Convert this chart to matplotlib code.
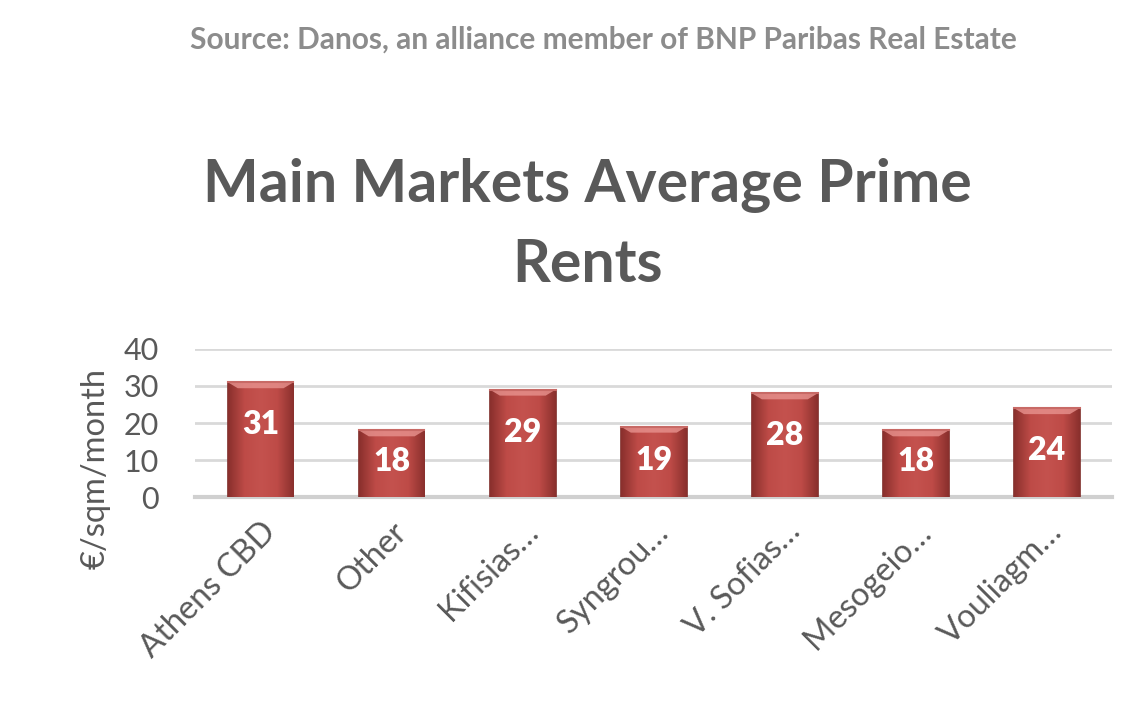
import numpy as np
import matplotlib
matplotlib.use('Agg')
import matplotlib.pyplot as plt
from matplotlib.colors import LinearSegmentedColormap

# data
markets = ['Athens CBD', 'Other', 'Kifisias…', 'Syngrou…', 'V. Sofias…', 'Mesogeio…', 'Vouliagm…']
rents = [31, 18, 29, 19, 28, 18, 24]
y_ticks = [0, 10, 20, 30, 40]

plt.rcParams['font.family'] = ['Lato', 'DejaVu Sans']
grey = '#595959'

fig = plt.figure(figsize=(11.48, 7.26), dpi=100)
ax = fig.add_axes([0.170, 0.3154, 0.799, 0.2039])

x = np.arange(len(markets))
bars = ax.bar(x, rents, width=0.5, color='#B8433F', edgecolor='#7E2C29',
              linewidth=1.2, zorder=3)

# shading across each bar: dark edges, lighter middle
cmap = LinearSegmentedColormap.from_list('bar', ['#8A302D', '#BE4B47', '#C4524E', '#BE4B47', '#8A302D'])
grad = np.linspace(0, 1, 100).reshape(1, -1)
for b in bars:
    x0, w, h = b.get_x(), b.get_width(), b.get_height()
    im = ax.imshow(grad, cmap=cmap, aspect='auto', extent=[x0, x0 + w, 0, h], zorder=3.5)
    im.set_clip_path(b)
    # light bevel on top
    ax.fill([x0, x0 + w, x0 + w * 0.85, x0 + w * 0.15], [h, h, h - 1.6, h - 1.6],
            color='#E8938F', alpha=0.8, zorder=4, lw=0)
    ax.plot([x0, x0 + w], [h, h], color='#C86A66', lw=1.5, zorder=4.5)

for xi, v in zip(x, rents):
    ax.text(xi, max(v - 11.5, v / 2 + 0.5), str(v), ha='center', va='center',
            color='white', fontsize=23, fontweight='heavy', zorder=5)

ax.set_ylim(0, 40)
ax.set_xlim(-0.5, len(markets) - 0.5)
ax.set_yticks(y_ticks)
ax.set_xticks(x)
ax.set_xticklabels(markets, rotation=45, ha='right', rotation_mode='anchor')
ax.tick_params(axis='both', length=0, labelsize=22, colors=grey)
ax.tick_params(axis='y', pad=26)
ax.tick_params(axis='x', pad=14, labelsize=23.5)
ax.yaxis.grid(True, color='#D9D9D9', lw=2, zorder=0)
ax.set_axisbelow(True)
for s in ['top', 'right', 'left']:
    ax.spines[s].set_visible(False)
ax.spines['bottom'].set_color('#D0D0D0')
ax.spines['bottom'].set_linewidth(3)

ax.set_ylabel('€/sqm/month', fontsize=23.5, color=grey)
ax.yaxis.set_label_coords(-0.109, 0.196)
ax.yaxis.label.set_va('center')

fig.text(0.526, 0.945, 'Source: Danos, an alliance member of BNP Paribas Real Estate',
         ha='center', va='center', fontsize=21.5, fontweight='bold', color='#8C8C8C')
fig.text(0.512, 0.690, 'Main Markets Average Prime\nRents', ha='center', va='center',
         fontsize=42.5, fontweight='bold', color=grey, linespacing=1.55)

fig.savefig('out.png', dpi=100, facecolor='white')
